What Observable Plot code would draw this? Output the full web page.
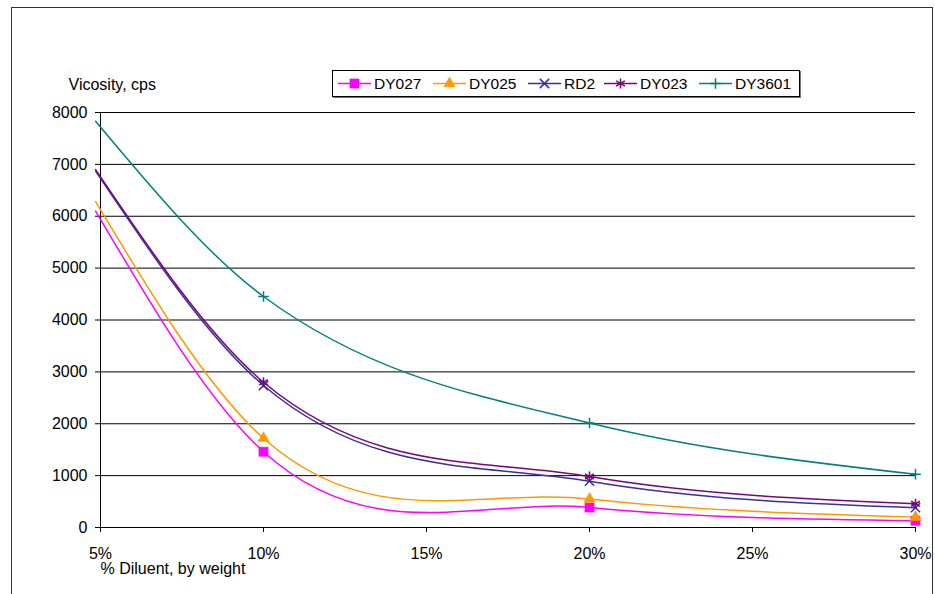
<!DOCTYPE html>
<html><head><meta charset="utf-8">
<script src="https://cdn.jsdelivr.net/npm/d3@7"></script>
<script src="https://cdn.jsdelivr.net/npm/@observablehq/plot@0.6"></script>
<style>
body{margin:0;background:#fff;overflow:hidden;font-family:"Liberation Sans",Arial,sans-serif;}
#wrap{position:relative;width:935px;height:594px;overflow:hidden;}
#frame{position:absolute;left:11px;top:7px;width:922px;height:640px;border:1px solid #333;box-sizing:border-box;pointer-events:none}
#legend{position:absolute;left:332px;top:70px;width:468px;height:27px;border:1px solid #000;box-sizing:border-box;background:#fff;box-shadow:1px 1px 0 #777;}
.item{position:absolute;top:0;height:25px;display:flex;align-items:center;font-size:15.5px;color:#000;white-space:nowrap}
.item svg{display:block}
</style></head><body><div id="wrap"><div id="frame"></div></div>
<script>
// ---- data ----
const diluent = [4.85, 10, 20, 30];           // % diluent by weight
const seriesNames = ["DY027", "DY025", "RD2", "DY023", "DY3601"];
const dy027  = [6100, 1460, 385, 130];
const dy025  = [6280, 1720, 550, 200];
const rd2    = [6870, 2737, 893, 382];
const dy023  = [6900, 2800, 983, 457];
const dy3601 = [7830, 4453, 2015, 1026];
const xTicks = [5, 10, 15, 20, 25, 30];
const yTicks = [0, 1000, 2000, 3000, 4000, 5000, 6000, 7000, 8000];
const yLabel = "Vicosity, cps";
const xLabel = "% Diluent, by weight";

const seriesValues = [dy027, dy025, rd2, dy023, dy3601];
const colors  = ["#FF00FF", "#FF9900", "#333399", "#800080", "#008080"];
const symbols = ["square", "triangle", "times", "asterisk", "plus"];
const radii   = [5.2, 4.2, 4.3, 4.8, 3.5];
const filled  = [true, true, false, false, false];

const rows = seriesNames.flatMap((name, s) =>
  diluent.map((x, i) => ({series: name, s, x, y: seriesValues[s][i]})));

// Smoothed line (spreadsheet style): cubic Hermite in x with 3-point derivatives, no monotone limiting
function excelSmooth(context) {
  let pts = [];
  const K = 0.9;
  return {
    areaStart() {}, areaEnd() {},
    lineStart() { pts = []; },
    point(x, y) { pts.push([+x, +y]); },
    lineEnd() {
      const n = pts.length; if (!n) return;
      context.moveTo(pts[0][0], pts[0][1]);
      if (n === 1) return;
      if (n === 2) { context.lineTo(pts[1][0], pts[1][1]); return; }
      const h = [], s = [];
      for (let i = 0; i < n - 1; i++) { h[i] = pts[i + 1][0] - pts[i][0]; s[i] = (pts[i + 1][1] - pts[i][1]) / h[i]; }
      const m = new Array(n);
      for (let i = 1; i < n - 1; i++) m[i] = K * (s[i - 1] * h[i] + s[i] * h[i - 1]) / (h[i - 1] + h[i]);
      m[0] = (3 * s[0] - m[1]) / 2;
      m[n - 1] = (3 * s[n - 2] - m[n - 2]) / 2;
      for (let i = 0; i < n - 1; i++) {
        const d = h[i] / 3;
        context.bezierCurveTo(pts[i][0] + d, pts[i][1] + d * m[i],
                              pts[i + 1][0] - d, pts[i + 1][1] - d * m[i + 1],
                              pts[i + 1][0], pts[i + 1][1]);
      }
    }
  };
}

const FONT = "16px";
const marks = [
  Plot.ruleY(yTicks.filter(d => d > 0), {x1: 5, x2: 30, stroke: "#000", strokeWidth: 1}),
  Plot.ruleX([5], {y1: 0, y2: 8000, stroke: "#000"}),
  Plot.ruleY([0], {x1: 5, x2: 30, stroke: "#000"}),
  Plot.axisY({ticks: yTicks, tickFormat: d => String(d), tickSize: 5, tickPadding: 8, label: null, fontSize: FONT, stroke: "#000"}),
  Plot.axisX({ticks: xTicks, tickFormat: d => d + "%", tickSize: 5, tickPadding: 15, label: null, fontSize: FONT}),
];
seriesNames.forEach((name, s) => {
  const data = rows.filter(r => r.s === s);
  marks.push(Plot.line(data, {x: "x", y: "y", stroke: colors[s], strokeWidth: 1.5, curve: excelSmooth}));
});
seriesNames.forEach((name, s) => {
  const data = rows.filter(r => r.s === s && r.x >= 5);
  marks.push(Plot.dot(data, {x: "x", y: "y", symbol: () => symbols[s], r: radii[s],
    fill: filled[s] ? colors[s] : "none", stroke: colors[s], strokeWidth: filled[s] ? 0.5 : 1.5}));
});
marks.push(Plot.text([yLabel], {frameAnchor: "top-left", dx: -32, dy: -34, textAnchor: "start", fontSize: FONT, fill: "#000"}));
marks.push(Plot.text([xLabel], {frameAnchor: "bottom-left", dx: 0, dy: 46, textAnchor: "start", fontSize: FONT, fill: "#000"}));

const chart = Plot.plot({
  width: 935, height: 594,
  marginLeft: 100, marginRight: 20, marginTop: 112, marginBottom: 67,
  x: {domain: [5, 30]},
  y: {domain: [0, 8000]},
  style: {fontFamily: "'Liberation Sans', Arial, sans-serif", fontSize: FONT, color: "#000", background: "#fff"},
  marks
});
const wrap = document.getElementById("wrap");
wrap.insertBefore(chart, wrap.firstChild);

// ---- legend ----
const legend = document.createElement("div");
legend.id = "legend";
const swatchLeft = [5, 100, 195, 271, 366];
seriesNames.forEach((name, s) => {
  const item = document.createElement("div");
  item.className = "item";
  item.style.left = swatchLeft[s] + "px";
  const sym = {square: d3.symbolSquare, triangle: d3.symbolTriangle, times: d3.symbolTimes,
               asterisk: d3.symbolAsterisk, plus: d3.symbolPlus}[symbols[s]];
  const path = d3.symbol(sym, radii[s] * radii[s] * Math.PI)();
  item.innerHTML = `<svg width="33" height="25"><line x1="0" x2="33" y1="12.5" y2="12.5" stroke="${colors[s]}" stroke-width="1.5"/>` +
    `<path transform="translate(16.5,12.5)" d="${path}" fill="${filled[s] ? colors[s] : "none"}" stroke="${colors[s]}" stroke-width="${filled[s] ? 0.5 : 1.5}"/></svg>` +
    `<span style="margin-left:3px">${name}</span>`;
  legend.appendChild(item);
});
wrap.appendChild(legend);
</script></body></html>
